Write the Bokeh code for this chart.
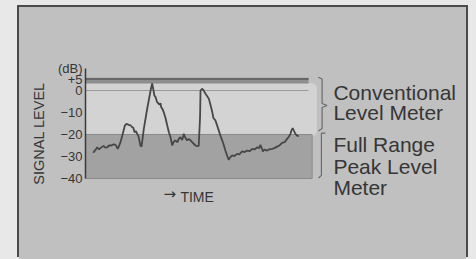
from bokeh.plotting import figure
from bokeh.models import Range1d, FixedTicker, BoxAnnotation, ColumnDataSource
from bokeh.core.properties import value
from bokeh.embed import file_html
from bokeh.resources import INLINE

# ---- data ----
time = [3.4, 4.4, 5.2, 6.0, 6.6, 7.5, 8.1, 8.8, 9.6, 10.4, 11.4, 12.4, 13.3, 14.3,
        15.5, 16.4, 17.4, 18.1, 19.2, 19.9, 20.7, 21.2, 21.7, 22.3, 22.9, 23.5,
        23.9, 24.3, 24.8, 25.8, 27.3, 28.8, 29.5, 30.1, 30.5, 31.0, 31.7, 32.4,
        32.7, 33.2, 33.5, 34.1, 34.6, 35.4, 36.2, 36.9, 37.6, 38.4, 38.9, 39.8,
        40.7, 41.3, 42.0, 42.8, 43.5, 44.2, 45.0, 45.7, 46.5, 47.2, 47.9, 48.7,
        49.4, 50.1, 50.7, 50.9, 51.6, 52.2, 53.1, 53.8, 54.6, 55.3, 56.1, 56.6,
        57.5, 58.6, 59.7, 60.8, 61.9, 62.8, 63.4, 63.9, 64.9, 65.9, 67.1, 68.1,
        69.3, 70.4, 71.5, 72.6, 73.8, 74.8, 76.0, 76.8, 77.4, 78.1, 78.5, 79.2,
        80.4, 81.4, 82.6, 83.6, 84.8, 85.8, 87.0, 88.1, 89.2, 90.0, 90.7, 91.2,
        91.7, 92.3, 92.9, 93.6, 94.4]
level_db = [-28.3, -27.0, -25.8, -26.8, -26.2, -25.5, -25.3, -26.0, -25.8, -25.0,
            -25.0, -24.5, -24.7, -26.5, -23.5, -20.0, -16.0, -15.2, -15.6, -15.8,
            -16.7, -17.0, -19.0, -18.5, -19.7, -21.0, -23.0, -25.0, -25.5, -17.4,
            -8.3, 0.0, 3.2, 0.0, -2.3, -3.0, -5.3, -6.0, -6.5, -5.8, -7.6, -8.5,
            -9.8, -12.5, -16.0, -19.0, -21.2, -25.0, -23.5, -22.7, -23.5, -22.0,
            -21.2, -22.5, -19.7, -21.5, -22.7, -22.0, -22.7, -23.5, -24.2, -25.0,
            -25.3, -25.2, -12.0, 0.0, 0.8, 0.2, -1.5, -2.5, -3.8, -6.5, -9.8,
            -12.5, -13.6, -17.0, -20.5, -23.5, -27.3, -30.0, -31.5, -30.5, -29.5,
            -29.8, -28.8, -29.0, -27.7, -28.0, -27.3, -27.6, -26.5, -26.8, -25.8,
            -26.2, -24.7, -26.5, -27.7, -26.8, -27.3, -26.7, -26.5, -26.2, -25.5,
            -25.0, -23.8, -23.5, -22.0, -21.0, -19.7, -18.0, -17.1, -18.5, -19.7,
            -20.5, -20.8]

y_ticks = [10, 5, 0, -10, -20, -30, -40]
y_tick_labels = ["(dB)", "+5", "0", "\u221210", "\u221220", "\u221230", "\u221240"]

# meter ranges (dB)
full_range = (-40, -20)
conventional_range = (-20.5, 3.1)
overload_band = (3.2, 5.8)
overload_line = 5.2

label_lines = ["Conventional", "Level Meter", "Full Range", "Peak Level", "Meter"]
label_y = [-0.9, -10.1, -24.5, -34.5, -44.1]

FONT = "Liberation Sans"
BOX_BG = "#c0c0c0"
TEXT = "#363636"

p = figure(width=447, height=252,
           x_range=Range1d(0, 168.6), y_range=Range1d(-76.82, 37.73),
           min_border_left=66, min_border_right=0, min_border_top=0, min_border_bottom=0,
           output_backend="svg", toolbar_location=None,
           styles={"margin-left": "19px", "margin-top": "7px",
                   "background-color": BOX_BG,
                   "box-shadow": "-2px -2px 0 0 #4a4a4a, 2px -2px 0 0 #4a4a4a, 0 0 0 40px #e8e8e8"})
p.background_fill_color = None
p.border_fill_color = None
p.outline_line_color = None
p.grid.visible = False
p.xaxis.visible = False

# y axis
ax = p.yaxis[0]
ax.bounds = (-40, 10)
ax.ticker = FixedTicker(ticks=y_ticks)
ax.major_label_overrides = dict(zip(y_ticks, y_tick_labels))
ax.major_tick_out = 0
ax.major_tick_in = 0
ax.minor_tick_out = 0
ax.minor_tick_in = 0
ax.major_label_standoff = 3
ax.major_label_text_font = FONT
ax.major_label_text_font_size = "13px"
ax.major_label_text_color = TEXT
ax.axis_line_color = "#3a3a3a"
ax.axis_line_width = 1.5
ax.axis_label = "SIGNAL LEVEL"
ax.axis_label_text_font = FONT
ax.axis_label_text_font_size = "14.5px"
ax.axis_label_text_font_style = "normal"
ax.axis_label_text_color = TEXT
ax.axis_label_standoff = 8

# conventional meter range (light, rounded)
p.add_layout(BoxAnnotation(left=0, right=102.2, bottom=conventional_range[0], top=conventional_range[1],
                           fill_color="#d3d3d3", fill_alpha=1, line_color="#e0e0e0", line_width=1.5,
                           border_radius=(0, 5, 5, 0), level="underlay"))
# full range region (dark)
p.quad(left=[0], right=[100.3], bottom=[full_range[0]], top=[full_range[1]],
       fill_color="#a2a2a2", line_color="#8a8a8a", line_width=1)
# overload band
p.quad(left=[0], right=[98.7], bottom=[overload_band[0]], top=[overload_band[1]],
       fill_color="#8e8e8e", line_color=None)
p.line([0, 98.7], [overload_line, overload_line], line_color="#5a5a5a", line_width=1.5)
p.line([0, 98.7], [0, 0], line_color="#9a9a9a", line_width=1)

# signal
src = ColumnDataSource(dict(t=time, lv=level_db))
p.line("t", "lv", source=src, line_color="#474747", line_width=1.8)

# brackets
p.multi_line(xs=[[103.0, 104.7, 104.7, 106.9, 104.7, 104.7, 103.1],
                 [106.2, 104.4, 104.4, 103.1]],
             ys=[[6.05, 5.2, -5.9, -6.8, -7.7, -17.3, -18.4],
                 [-19.4, -19.4, -38.6, -39.8]],
             line_color="#6a6a6a", line_width=1.2)

# right labels
p.text(x=[109.7] * len(label_lines), y=label_y, text=label_lines,
       text_font=value(FONT), text_font_size="21px", text_color=TEXT,
       text_baseline="alphabetic", text_align="left")

# time label
p.text(x=[34.5], y=[-47.2], text=["\u2192"], text_font=value("DejaVu Sans"),
       text_font_size="15px", text_color=TEXT, text_baseline="middle", text_align="left")
p.text(x=[42.0], y=[-48.6], text=["TIME"], text_font=value(FONT),
       text_font_size="14px", text_color=TEXT, text_baseline="alphabetic", text_align="left")

open("out.html", "w").write(file_html(p, INLINE))
